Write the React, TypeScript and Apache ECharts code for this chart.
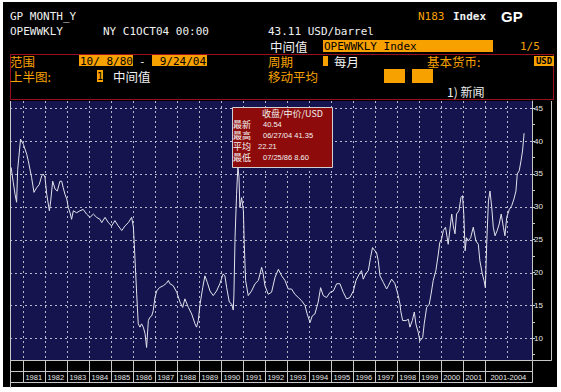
import React, { useEffect, useRef } from 'react';
import * as echarts from 'echarts';

// ---- data (x = position on the chart's own year scale) ----
const priceDates = [
  1980.47, 1980.57, 1980.65, 1980.72, 1980.77, 1980.9, 1981.03, 1981.18, 1981.25, 1981.4,
  1981.51, 1981.63, 1981.75, 1981.86, 1981.93, 1982.01, 1982.09, 1982.21, 1982.27, 1982.36,
  1982.47, 1982.57, 1982.69, 1982.77, 1982.84, 1982.92, 1983.0, 1983.07, 1983.15, 1983.22,
  1983.3, 1983.45, 1983.6, 1983.75, 1983.9, 1984.06, 1984.21, 1984.36, 1984.51, 1984.59,
  1984.74, 1984.89, 1985.04, 1985.19, 1985.34, 1985.5, 1985.65, 1985.8, 1985.95, 1986.03,
  1986.07, 1986.12, 1986.18, 1986.25, 1986.33, 1986.4, 1986.48, 1986.56, 1986.63, 1986.71,
  1986.78, 1986.86, 1986.93, 1987.01, 1987.09, 1987.21, 1987.39, 1987.54, 1987.62, 1987.69,
  1987.84, 1988.0, 1988.15, 1988.27, 1988.37, 1988.53, 1988.68, 1988.83, 1988.9, 1988.98,
  1989.06, 1989.18, 1989.28, 1989.39, 1989.51, 1989.66, 1989.81, 1989.96, 1990.11, 1990.19,
  1990.27, 1990.39, 1990.5, 1990.57, 1990.6, 1990.65, 1990.72, 1990.78, 1990.83, 1990.87,
  1990.95, 1991.03, 1991.07, 1991.13, 1991.25, 1991.4, 1991.56, 1991.71, 1991.86, 1991.93,
  1992.01, 1992.16, 1992.31, 1992.47, 1992.62, 1992.77, 1992.92, 1993.07, 1993.22, 1993.37,
  1993.53, 1993.68, 1993.83, 1993.93, 1994.06, 1994.16, 1994.28, 1994.43, 1994.54, 1994.66,
  1994.81, 1994.97, 1995.12, 1995.27, 1995.42, 1995.57, 1995.72, 1995.87, 1996.03, 1996.15,
  1996.3, 1996.4, 1996.48, 1996.59, 1996.71, 1996.81, 1996.9, 1997.01, 1997.08, 1997.16,
  1997.24, 1997.39, 1997.54, 1997.62, 1997.77, 1997.92, 1998.07, 1998.15, 1998.18, 1998.27,
  1998.42, 1998.53, 1998.6, 1998.71, 1998.8, 1998.87, 1998.98, 1999.05, 1999.18, 1999.25,
  1999.36, 1999.48, 1999.56, 1999.66, 1999.78, 1999.89, 1999.96, 2000.04, 2000.12, 2000.22,
  2000.34, 2000.42, 2000.5, 2000.57, 2000.65, 2000.72, 2000.83, 2000.92, 2000.99, 2001.05,
  2001.11, 2001.17, 2001.25, 2001.36, 2001.48, 2001.6, 2001.71, 2001.78, 2001.89, 2001.97,
  2002.03, 2002.09, 2002.17, 2002.24, 2002.32, 2002.39, 2002.47, 2002.57, 2002.66, 2002.75,
  2002.85, 2002.92, 2003.0, 2003.12, 2003.23, 2003.33, 2003.42, 2003.48, 2003.57, 2003.65,
  2003.72, 2003.79,
];
const priceValues = [
  36.0, 33.7, 31.9, 30.7, 35.7, 40.3, 39.5, 38.0, 37.0, 34.5,
  32.2, 32.9, 33.4, 34.7, 35.0, 34.5, 31.9, 29.4, 30.9, 33.9,
  32.7, 32.4, 33.9, 33.9, 32.9, 31.9, 31.2, 29.9, 29.1, 28.1,
  29.4, 29.1, 29.4, 29.6, 28.9, 28.4, 28.9, 28.4, 28.1, 27.6,
  28.4, 27.6, 27.1, 27.9, 27.1, 26.4, 27.1, 27.6, 28.4, 26.9,
  24.3, 20.8, 16.7, 12.2, 11.7, 12.2, 11.7, 10.7, 8.6, 12.7,
  13.2, 13.4, 14.2, 16.2, 17.2, 17.7, 18.0, 18.4, 18.8, 18.3,
  18.0, 17.0, 15.5, 14.7, 16.0, 14.7, 13.7, 12.2, 11.7, 12.7,
  15.2, 17.7, 19.5, 18.5, 17.2, 16.5, 17.2, 18.3, 19.8, 19.5,
  17.7, 15.5, 15.2, 14.3, 16.7, 25.3, 31.9, 36.2, 34.5, 29.9,
  31.4, 29.4, 24.3, 18.8, 16.5, 17.2, 18.3, 18.8, 20.8, 19.8,
  18.0, 16.7, 17.0, 19.3, 20.5, 19.5, 18.8, 17.5, 17.5, 16.7,
  16.2, 15.7, 15.0, 13.7, 12.4, 13.4, 13.7, 15.5, 17.7, 16.5,
  16.2, 17.0, 17.2, 18.3, 18.3, 17.0, 16.0, 16.2, 17.2, 18.8,
  19.8, 20.3, 19.0, 19.8, 20.3, 22.3, 23.8, 23.3, 23.1, 21.8,
  19.5, 18.5, 17.5, 18.0, 19.0, 18.3, 16.5, 15.2, 14.2, 12.7,
  12.7, 12.9, 11.7, 12.7, 14.0, 12.2, 10.9, 9.6, 10.1, 12.2,
  14.7, 15.2, 16.7, 18.8, 20.3, 22.8, 24.6, 25.1, 26.4, 26.9,
  24.3, 26.6, 28.9, 27.1, 25.9, 28.9, 29.4, 31.4, 31.7, 28.9,
  23.3, 25.3, 24.8, 25.3, 26.9, 24.8, 24.3, 21.8, 19.8, 18.8,
  17.7, 24.3, 30.9, 32.4, 29.9, 26.9, 25.6, 26.4, 27.4, 28.9,
  26.9, 25.6, 28.4, 29.6, 30.2, 31.2, 32.4, 35.0, 35.5, 37.0,
  38.5, 41.2,
];
const gridYears = [
  1981, 1982, 1983, 1984, 1985, 1986, 1987, 1988, 1989, 1990, 1991, 1992,
  1993, 1994, 1995, 1996, 1997, 1998, 1999, 2000, 2001, 2002, 2003,
];
const cellEdges = [
  1980.42, 1981, 1982, 1983, 1984, 1985, 1986, 1987, 1988, 1989, 1990, 1991, 1992,
  1993, 1994, 1995, 1996, 1997, 1998, 1999, 2000, 2001, 2002, 2004.15,
];
const cellLabels = [
  '', '1981', '1982', '1983', '1984', '1985', '1986', '1987', '1988', '1989', '1990',
  '1991', '1992', '1993', '1994', '1995', '1996', '1997', '1998', '1999', '2000', '2001',
  '2001-2004',
];
const yLabelValues = [10, 15, 20, 25, 30, 35, 40, 45];
const yMinorTicks = [7.5, 10, 12.5, 15, 17.5, 20, 22.5, 25, 27.5, 30, 32.5, 35, 37.5, 40, 42.5, 45];
const statNames = ['最新', '最高', '平均', '最低'];
const statValues = ['40.54', '06/27/04 41.35', '22.21', '07/25/86 8.60'];

const X_MIN = 1980.42;
const X_MAX = 2004.15;
const Y_MIN = 6.7;
const Y_MAX = 46.1;

const MONO = '"DejaVu Sans Mono", "Liberation Mono", monospace';
const CJK = '"Noto Sans CJK SC", sans-serif';
const SANS = '"Liberation Sans", Arial, sans-serif';
const ORANGE = '#f7a100';
const RED = '#9a0f1e';
const GRIDC = '#b8b8cc';
const LINEC = '#c8c8c8';

function txt(
  text: string, x: number, y: number, fill: string, size: number, family: string,
  z = 5, align = 'left', weight = 'normal',
) {
  return {
    type: 'text', x, y, z, silent: true,
    style: {
      text, fill, font: `${weight} ${size}px ${family}`, lineHeight: size,
      align, verticalAlign: 'middle',
    },
  };
}
function box(x: number, y: number, w: number, h: number, fill: string, z = 4) {
  return { type: 'rect', z, silent: true, shape: { x, y, width: w, height: h }, style: { fill } };
}
function ln(x1: number, y1: number, x2: number, y2: number, stroke: string, z = 1, dash?: number[]) {
  return {
    type: 'line', z, silent: true,
    shape: { x1, y1, x2, y2 },
    style: { stroke, lineWidth: 1, lineDash: dash || null },
  };
}

export default function App() {
  const ref = useRef<HTMLDivElement>(null);
  useEffect(() => {
    document.body.style.margin = '0';
    if (!ref.current) return;
    const chart = echarts.init(ref.current, null, { renderer: 'svg' });
    const data = priceDates.map((d, i) => [d, priceValues[i]]);
    chart.setOption({
      animation: false,
      backgroundColor: 'transparent',
      grid: {
        left: 10, top: 101, width: 522, height: 259,
        show: true, backgroundColor: '#15144f', borderWidth: 0,
        containLabel: false, outerBoundsMode: 'none',
      },
      xAxis: { type: 'value', min: X_MIN, max: X_MAX, show: false },
      yAxis: {
        type: 'value', position: 'right', min: Y_MIN, max: Y_MAX,
        axisLine: { show: true, lineStyle: { color: LINEC, width: 1 } },
        axisTick: { show: true, length: 3, customValues: yMinorTicks, lineStyle: { color: LINEC } },
        axisLabel: {
          show: true, customValues: yLabelValues, color: '#e8e8e8',
          fontSize: 8, fontFamily: SANS, margin: 2,
        },
        splitLine: { show: false },
      },
      series: [{
        type: 'line', data, symbol: 'none', showSymbol: false, silent: true,
        lineStyle: { color: '#e2e2ec', width: 1 }, z: 3,
      }],
    });

    const xPx = (v: number) => chart.convertToPixel({ xAxisIndex: 0 }, v) as number;
    const yPx = (v: number) => chart.convertToPixel({ yAxisIndex: 0 }, v) as number;
    const crisp = (v: number) => Math.round(v) + 0.5;
    const left = xPx(X_MIN);
    const right = xPx(X_MAX);
    const top = yPx(Y_MAX);
    const bottom = yPx(Y_MIN);

    const els: any[] = [];
    // grid dashes
    gridYears.forEach((yr) => {
      const x = crisp(xPx(yr));
      els.push(ln(x, top, x, bottom, GRIDC, 1, [2, 3]));
    });
    yLabelValues.forEach((v) => {
      const y = crisp(yPx(v));
      els.push(ln(left, y, right, y, GRIDC, 1, [2, 3]));
    });
    // plot left edge & right axis panel
    els.push(ln(crisp(left), top, crisp(left), 388, LINEC, 2));
    els.push(ln(crisp(right) + 19, top, crisp(right) + 19, crisp(bottom), LINEC, 2));
    els.push(ln(crisp(right), crisp(bottom), crisp(right) + 19, crisp(bottom), LINEC, 2));
    // year cells
    const r0 = 360.5, r1 = 371.5, r2 = 382.5;
    [r0, r1, r2].forEach((y) => els.push(ln(crisp(left), y, crisp(right), y, LINEC, 2)));
    cellEdges.forEach((e) => {
      const x = crisp(xPx(e));
      els.push(ln(x, r0, x, r2, LINEC, 2));
    });
    cellLabels.forEach((lab, i) => {
      if (!lab) return;
      const cx = (xPx(cellEdges[i]) + xPx(cellEdges[i + 1])) / 2;
      els.push(txt(lab, cx, 377, '#e8e8e8', 7.5, SANS, 5, 'center'));
    });

    // header
    els.push(txt('GP MONTH_Y', 10, 16, '#f0f0f0', 11, MONO));
    els.push(txt('OPEWWKLY', 10, 31, '#f0f0f0', 11, MONO));
    els.push(txt('NY C1OCT04 00:00', 103, 31, '#f0f0f0', 11, MONO));
    els.push(txt('43.11 USD/barrel', 268, 31, '#f0f0f0', 11, MONO));
    els.push(txt('N183', 418, 16, ORANGE, 11, MONO));
    els.push(txt('Index', 453, 16, '#f0f0f0', 11, MONO, 5, 'left', 'bold'));
    els.push(txt('GP', 501, 16, '#ffffff', 15, SANS, 5, 'left', 'bold'));
    els.push(txt('中间值', 270, 46.5, '#f0f0f0', 12.5, CJK));
    els.push(box(323, 40, 170, 12, ORANGE));
    els.push(txt('OPEWWKLY Index', 324, 46.5, '#000000', 11, MONO));
    els.push(txt('1/5', 520, 46.5, ORANGE, 11, MONO));

    // red framed panel
    els.push({
      type: 'rect', z: 3, silent: true,
      shape: { x: 10.5, y: 54.5, width: 543, height: 45 },
      style: { fill: 'none', stroke: RED, lineWidth: 1 },
    });
    els.push(txt('范围', 10, 61, ORANGE, 12.5, CJK));
    els.push(box(79, 55, 54, 11, ORANGE));
    els.push(txt('10/ 8/80', 80, 61, '#000000', 11, MONO));
    els.push(txt('-', 139, 61, '#f0f0f0', 11, MONO));
    els.push(box(152, 55, 55, 11, ORANGE));
    els.push(txt('9/24/04', 206, 61, '#000000', 11, MONO, 5, 'right'));
    els.push(txt('周期', 268, 61, ORANGE, 12.5, CJK));
    els.push(box(323, 56, 5, 10, ORANGE));
    els.push(txt('每月', 334, 61, '#f0f0f0', 12.5, CJK));
    els.push(txt('基本货币:', 427, 61, ORANGE, 12.5, CJK));
    els.push(box(534, 56, 20, 10, ORANGE));
    els.push(txt('USD', 544, 61, '#000000', 9, MONO, 5, 'center', 'bold'));

    els.push(txt('上半图:', 10, 76, ORANGE, 12.5, CJK));
    els.push(box(97, 70, 6, 12, ORANGE));
    els.push(txt('1', 100, 76, '#000000', 10, MONO, 5, 'center'));
    els.push(txt('中间值', 113, 76, '#f0f0f0', 12.5, CJK));
    els.push(txt('移动平均', 268, 76, ORANGE, 12.5, CJK));
    els.push(box(384, 69, 21, 14, ORANGE));
    els.push(box(412, 69, 21, 14, ORANGE));
    els.push(txt('1) 新闻', 447, 91, '#f0f0f0', 12, CJK));

    // stats box
    els.push({
      type: 'rect', z: 20, silent: true,
      shape: { x: 232.5, y: 107.5, width: 100, height: 60 },
      style: { fill: '#8e0b0b', stroke: '#d0d0d0', lineWidth: 1 },
    });
    els.push(txt('收盘/中价/USD', 262, 113, '#f2f2f2', 9, CJK, 21));
    statNames.forEach((n, i) => {
      const y = 124 + i * 11;
      els.push(txt(n, 233, y, '#f2f2f2', 9, CJK, 21));
      els.push(txt(statValues[i], i === 2 ? 258 : 263, y, '#f2f2f2', 7.5, SANS, 21));
    });

    chart.setOption({ graphic: { elements: els } });
    return () => chart.dispose();
  }, []);

  return (
    <div style={{ position: 'relative', width: 561, height: 392, background: '#ffffff', overflow: 'hidden' }}>
      <div style={{ position: 'absolute', left: 3, top: 2, width: 554, height: 385, background: '#000000' }} />
      <div ref={ref} style={{ position: 'absolute', left: 0, top: 0, width: 561, height: 392 }} />
    </div>
  );
}
